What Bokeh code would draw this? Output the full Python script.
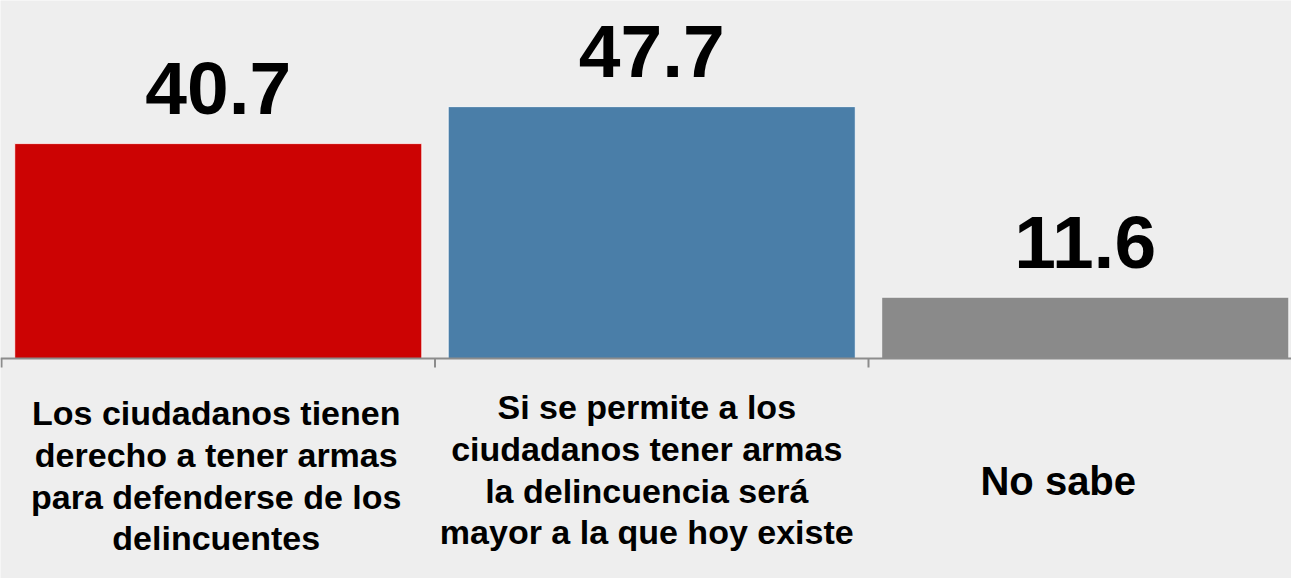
from bokeh.plotting import figure
from bokeh.models import Range1d, ColumnDataSource, Span
from bokeh.core.properties import value
from bokeh.embed import file_html
from bokeh.resources import INLINE

# ---- data ----
categories = [
    "Los ciudadanos tienen\nderecho a tener armas\npara defenderse de los\ndelincuentes",
    "Si se permite a los\nciudadanos tener armas\nla delincuencia será\nmayor a la que hoy existe",
    "No sabe",
]
values = [40.7, 47.7, 11.6]
value_labels = ["40.7", "47.7", "11.6"]
colors = ["#CC0303", "#4A7EA8", "#8A8A8A"]

# ---- layout constants (pixels) ----
W, H = 1291, 578
BASE_PX = 358          # baseline pixel row
PX_PER_UNIT = 5.28     # vertical scale
CAT_PX = 433.5         # category width in px
LEFT_PX = 1            # first category boundary
BAR_W = 0.939
FONT = "Liberation Sans"
BASELINE_FIX = 0.37    # renderer places alphabetic baseline this fraction of size too low

y_top = BASE_PX / PX_PER_UNIT
y_bot = (BASE_PX - H) / PX_PER_UNIT
x_start = -LEFT_PX / CAT_PX
x_end = (W - LEFT_PX) / CAT_PX

p = figure(width=W, height=H, output_backend="svg", toolbar_location=None,
           x_range=Range1d(x_start, x_end), y_range=Range1d(y_bot, y_top),
           x_axis_location=None, y_axis_location=None, min_border=0,
           background_fill_color="#EEEEEE", border_fill_color="#EEEEEE",
           outline_line_color=None)
p.grid.visible = False

n = len(categories)
centers = [i + 0.5 for i in range(n)]
VAL_SIZE = 75
gap = 28 + BASELINE_FIX * VAL_SIZE
src = ColumnDataSource(dict(x=centers, top=values, color=colors, lab=value_labels,
                            ly=[v + gap / PX_PER_UNIT for v in values]))

p.vbar(x="x", top="top", bottom=0, width=BAR_W, fill_color="color",
       line_color="white", line_width=1, line_alpha=0.8, source=src)

# value labels
p.text(x="x", y="ly", text="lab", source=src, text_align="center",
       text_baseline="alphabetic", text_font=value(FONT), text_font_style="bold",
       text_font_size=f"{VAL_SIZE}px", text_color="black")

# baseline and boundary ticks
p.add_layout(Span(location=0, dimension="width", line_color="#8C8C8C", line_width=2))
bounds = list(range(n))
tick_len = 9 / PX_PER_UNIT
p.segment(x0=bounds, y0=[0] * n, x1=bounds, y1=[-tick_len] * n,
          line_color="#8C8C8C", line_width=2)

# category labels (each line as text)
first_baseline_px = [67, 61, 137.7]
x_off_px = [-2, -5, -27]
size_px = [34, 34, 40]
line_px = 41.8
for i, lab in enumerate(categories):
    lines = lab.split("\n")
    xs = [centers[i] + x_off_px[i] / CAT_PX] * len(lines)
    b0 = first_baseline_px[i] - BASELINE_FIX * size_px[i]
    ys = [-(b0 + k * line_px) / PX_PER_UNIT for k in range(len(lines))]
    p.text(x=xs, y=ys, text=lines, text_align="center", text_baseline="alphabetic",
           text_font=value(FONT), text_font_style="bold",
           text_font_size=f"{size_px[i]}px", text_color="black")

open("out.html", "w").write(file_html(p, INLINE))
